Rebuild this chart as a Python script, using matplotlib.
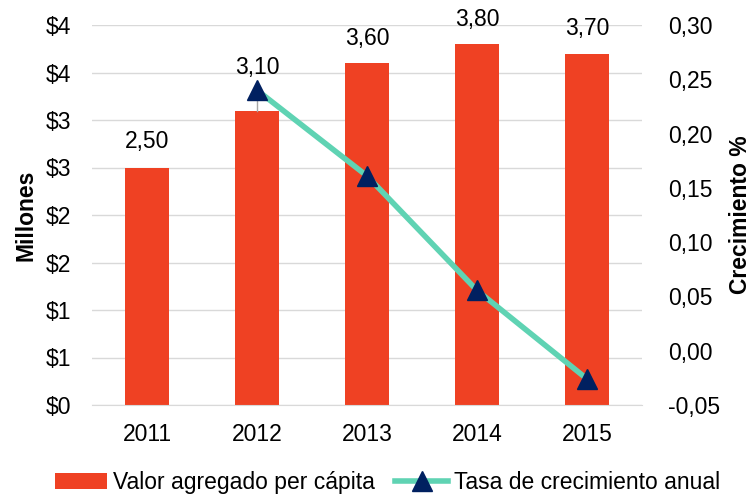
import math

import matplotlib
matplotlib.use('Agg')
import matplotlib.pyplot as plt
from matplotlib.ticker import FuncFormatter, MultipleLocator

plt.rcParams['font.family'] = ['Liberation Sans', 'DejaVu Sans']

years = ['2011', '2012', '2013', '2014', '2015']
valor = [2.50, 3.10, 3.60, 3.80, 3.70]
tasa = [0.24, 0.161, 0.0556, -0.026]
tasa_years = years[1:]

bar_color = '#EF4123'
line_color = '#5FD3B3'
marker_color = '#002060'
grid_color = '#D9D9D9'
fs = 16.5


def money(v, pos):
    return '$%d' % math.floor(v + 0.5)


def comma(v, pos):
    return ('%.2f' % v).replace('.', ',')


fig = plt.figure(figsize=(7.52, 4.97), dpi=100)
ax = fig.add_axes([92 / 752, 92 / 497, 550 / 752, 380 / 497])
x = list(range(len(years)))

ax.bar(x, valor, width=0.4, color=bar_color, zorder=2,
       label='Valor agregado per cápita')
ax.set_ylim(0, 4)
ax.set_xlim(-0.5, len(years) - 0.5)
ax.yaxis.set_major_locator(MultipleLocator(0.5))
ax.yaxis.set_major_formatter(FuncFormatter(money))
ax.set_xticks(x)
ax.set_xticklabels(years)
ax.grid(axis='y', color=grid_color, linewidth=1, zorder=0)
ax.set_axisbelow(True)
for s in ['top', 'left', 'right']:
    ax.spines[s].set_visible(False)
ax.spines['bottom'].set_color(grid_color)
ax.tick_params(length=0, labelsize=fs)
ax.tick_params(axis='x', pad=13)
ax.tick_params(axis='y', pad=15)
ax.set_ylabel('Millones', fontsize=fs, fontweight='bold', labelpad=6)

# data labels (2012 label moved up with a leader line)
offsets = [0.27, 0.45, 0.26, 0.26, 0.26]
for i, v in enumerate(valor):
    ax.text(i, v + offsets[i], ('%.2f' % v).replace('.', ','),
            ha='center', va='center', fontsize=fs, zorder=5)
ax.plot([1, 1], [valor[1] + 0.3, valor[1]], color='#A6A6A6',
        linewidth=1, zorder=3)

ax2 = ax.twinx()
xi = [years.index(y) for y in tasa_years]
ax2.plot(xi, tasa, color=line_color, linewidth=4, marker='^',
         markersize=15, markerfacecolor=marker_color,
         markeredgecolor=marker_color, zorder=4,
         label='Tasa de crecimiento anual')
ax2.set_ylim(-0.05, 0.30)
ax2.yaxis.set_major_locator(MultipleLocator(0.05))
ax2.yaxis.set_major_formatter(FuncFormatter(comma))
for s in ['top', 'left', 'right', 'bottom']:
    ax2.spines[s].set_visible(False)
ax2.tick_params(length=0, labelsize=fs, pad=19)
ax2.set_ylabel('Crecimiento %', fontsize=fs, fontweight='bold',
               rotation=90, labelpad=6)

h1, l1 = ax.get_legend_handles_labels()
h2, l2 = ax2.get_legend_handles_labels()
fig.legend(h1 + h2, l1 + l2, loc='center', bbox_to_anchor=(0.515, 0.03),
           ncol=2, frameon=False, fontsize=fs, handlelength=2.3,
           handletextpad=0.25, columnspacing=0.9, borderpad=0)

fig.savefig('out.png', dpi=100)
